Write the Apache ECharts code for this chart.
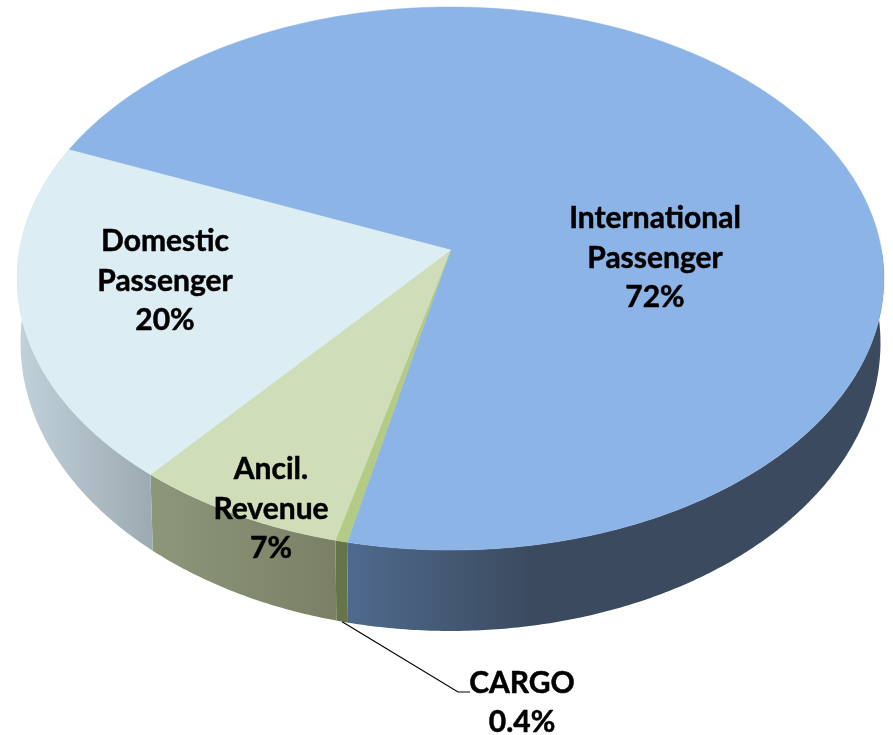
<!DOCTYPE html>
<html>
<head>
<meta charset="utf-8">
<style>
  html, body { margin: 0; padding: 0; background: #fff; }
  #main { width: 893px; height: 735px; }
</style>
</head>
<body>
<div id="main"></div>
<script src="https://cdn.jsdelivr.net/npm/echarts@6/dist/echarts.min.js"></script>
<script>
// slices, clockwise from the upper left edge of the Domestic slice
var categories = ['International\nPassenger', 'CARGO', 'Ancil.\nRevenue', 'Domestic\nPassenger'];
var shares = [72.1, 0.4, 7.2, 20.3];
var shareLabels = ['72%', '0.4%', '7%', '20%'];

var topColors = ['#8db4e6', '#b3cb84', '#cfddb8', '#dcedf4'];
var wallColors = [
  [[0, '#4f6a8e'], [0.35, '#3b4a5e'], [1, '#3b4a5e']],
  [[0, '#657548'], [1, '#657548']],
  [[0, '#8c977a'], [1, '#7b8064']],
  [[0, '#c2d2da'], [1, '#9caab2']]
];
var labelAnchors = [[655, 258], [522, 703], [271, 509], [165, 281]];
var leaderBend = [[458, 692], [470, 692]];

var startAngle = 202.87;
var total = shares.reduce(function (a, b) { return a + b; }, 0);
var tilt = -0.105;
// perspective of the top face and of the bottom edge
var topFace = { cx: 450.5, A: 242.3, B: 250, D: 431 };
var bottomEdge = { cx: 450.5, A: 251.95, B: 312.75, D: 427.6 };

function project(face, deg) {
  var rad = deg * Math.PI / 180;
  var w = 1 + tilt * Math.sin(rad);
  return [face.cx + face.D * Math.cos(rad) / w, (face.A * Math.sin(rad) + face.B) / w];
}

function sliceAngles(i) {
  var before = shares.slice(0, i).reduce(function (a, b) { return a + b; }, 0);
  return [startAngle + before / total * 360, startAngle + (before + shares[i]) / total * 360];
}

function arc(face, from, to) {
  var n = Math.max(2, Math.ceil(Math.abs(to - from) / 0.5));
  var pts = [];
  for (var k = 0; k <= n; k++) {
    pts.push(project(face, from + (to - from) * k / n));
  }
  return pts;
}

function renderWall(params, api) {
  var i = params.dataIndex;
  var a = sliceAngles(i);
  // only the front part of the wall can be seen
  var from = a[0], to = a[1];
  if (i === 0) from = 360;
  var pts = arc(topFace, from, to).concat(arc(bottomEdge, to, from));
  var xs = pts.map(function (p) { return p[0]; });
  var x0 = Math.min.apply(null, xs), x1 = Math.max.apply(null, xs);
  var stops = wallColors[i].map(function (s) { return { offset: s[0], color: s[1] }; });
  return {
    type: 'polygon',
    shape: { points: pts },
    style: { fill: new echarts.graphic.LinearGradient(x0, 0, x1, 0, stops, true) }
  };
}

function renderTop(params, api) {
  var i = params.dataIndex;
  var a = sliceAngles(i);
  var pts = [[topFace.cx, topFace.B]].concat(arc(topFace, a[0], a[1]));
  return {
    type: 'polygon',
    shape: { points: pts },
    style: { fill: topColors[i], stroke: topColors[i], lineWidth: 0.5 }
  };
}

function renderLabel(params, api) {
  var i = params.dataIndex;
  var children = [{
    type: 'text',
    style: {
      text: categories[i] + '\n' + shareLabels[i],
      x: labelAnchors[i][0],
      y: labelAnchors[i][1],
      align: 'center',
      verticalAlign: 'middle',
      fontFamily: 'Lato',
      fontWeight: 'bold',
      fontSize: 30,
      lineHeight: 39.5,
      fill: '#000',
      stroke: '#000',
      lineWidth: 0.5
    }
  }];
  if (categories[i] === 'CARGO') {
    var a = sliceAngles(i);
    children.push({
      type: 'polyline',
      shape: { points: [project(bottomEdge, (a[0] + a[1]) / 2)].concat(leaderBend) },
      style: { fill: 'none', stroke: '#000', lineWidth: 1.2 }
    });
  }
  return { type: 'group', children: children };
}

var seriesData = shares.map(function (v) { return [v]; });
var chart = echarts.init(document.getElementById('main'));
chart.setOption({
  backgroundColor: '#fff',
  animation: false,
  series: [
    { type: 'custom', coordinateSystem: 'none', silent: true, z: 1, renderItem: renderWall, data: seriesData },
    { type: 'custom', coordinateSystem: 'none', silent: true, z: 2, renderItem: renderTop, data: seriesData },
    { type: 'custom', coordinateSystem: 'none', silent: true, z: 3, renderItem: renderLabel, data: seriesData }
  ]
});
</script>
</body>
</html>
